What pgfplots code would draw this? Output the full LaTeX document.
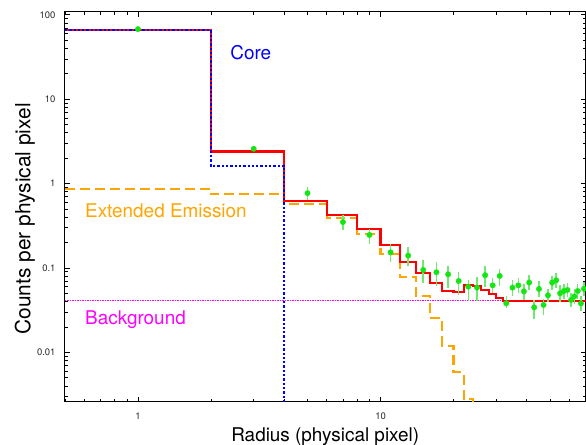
\documentclass[border=0pt]{standalone}
\usepackage{pgfplots}
\pgfplotsset{compat=1.18}
\usepackage{pgfplotstable}
\usepackage{fontspec}
\setmainfont{TeX Gyre Heros}

\definecolor{cred}{RGB}{255,0,0}
\definecolor{cblue}{RGB}{0,0,255}
\definecolor{corange}{RGB}{255,165,0}
\definecolor{cmag}{RGB}{255,0,255}
\definecolor{cgreen}{RGB}{20,230,20}
\definecolor{cgreenl}{RGB}{110,235,110}

\pgfplotstableread{
x y yp ym
1 67.7 2 2
3 2.58 0.17 0.18
5 0.77 0.14 0.14
7 0.35 0.07 0.07
9 0.246 0.044 0.056
11 0.153 0.040 0.0345
13 0.140 0.039 0.036
15 0.0946 0.0304 0.028
17 0.0889 0.0296 0.0281
19 0.0841 0.0199 0.0261
21 0.070 0.0203 0.0216
23 0.060 0.012 0.019
25 0.0584 0.0206 0.0174
27 0.082 0.022 0.022
29 0.0622 0.0133 0.0123
31 0.0804 0.0166 0.0192
33 0.0381 0.0079 0.0048
35 0.0584 0.0136 0.0124
37 0.0622 0.0138 0.0122
39 0.0528 0.0122 0.0108
41 0.067 0.015 0.012
43 0.0341 0.0076 0.0096
45 0.0563 0.0137 0.0113
47 0.0364 0.007 0.009
49 0.0474 0.0096 0.0084
51 0.067 0.013 0.012
53 0.0714 0.0146 0.0134
55 0.0501 0.0119 0.0101
57 0.0533 0.0117 0.0103
59 0.0548 0.0112 0.0098
61 0.0417 0.0093 0.0077
63 0.046 0.010 0.009
65 0.0533 0.0117 0.0103
67 0.038 0.009 0.007
69 0.0566 0.0114 0.0106
}\datatab

\begin{document}
\begin{tikzpicture}
\begin{axis}[
  name=ax,
  scale only axis,
  width=521bp, height=390bp,
  xmode=log, ymode=log,
  xmin=0.5, xmax=70,
  ymin=0.0026, ymax=108,
  log ticks with fixed point,
  /pgf/number format/assume math mode=true,
  tick label style={font=\fontsize{9.5}{11}\selectfont, color=black!85},
  xticklabel style={yshift=-8bp},
  yticklabel style={xshift=-6bp},
  major tick length=5bp,
  minor tick length=3bp,
  tick style={line width=0.7bp, black},
  axis line style={line width=1bp, black},
  xlabel={Radius (physical pixel)},
  ylabel={Counts per physical pixel},
  xlabel style={font=\fontsize{19}{22}\selectfont, at={(axis description cs:0.5,0)}, anchor=base, yshift=-39.5bp},
  ylabel style={font=\fontsize{21}{24}\selectfont, at={(axis description cs:-0.0768,0.469)}, anchor=center},
]
\addplot[const plot, cmag, line width=1.6bp, dash pattern=on 1.5bp off 1bp] coordinates {(0.5,0.0409) (70,0.0409)};
\addplot[const plot, corange, line width=2.1bp, dash pattern=on 10bp off 5bp] coordinates {
(0.5,0.865) (2,0.745) (4,0.57) (6,0.39) (8,0.253) (10,0.145) (12,0.079) (14,0.0465) (16,0.0253) (18,0.012) (20,0.0058) (22,0.0028) (24,0.00001) (70,0.00001)};
\addplot[const plot, cred, line width=2.1bp] coordinates {
(0.5,66.4) (2,2.40) (4,0.62) (6,0.425) (8,0.29) (10,0.186) (12,0.119) (14,0.0875) (16,0.067) (18,0.0534) (20,0.0515) (22,0.063) (24,0.061) (26,0.0545) (28,0.0496) (30,0.0442) (32,0.0409) (70,0.0409)};
\addplot[const plot, cblue, line width=2.1bp, dash pattern=on 2.3bp off 2bp] coordinates {
(0.5,65.5) (2,1.63) (4,0.00001) (70,0.00001)};
\addplot[only marks, mark=*, mark size=2.7bp, color=cgreen,
  error bars/.cd, y dir=both, y explicit, error mark=none,
  error bar style={line width=1.5bp, color=cgreenl}]
  table[x=x, y=y, y error plus=yp, y error minus=ym] {\datatab};
\node[cblue, font=\fontsize{19}{22}\selectfont] at (rel axis cs:0.357,0.897) {Core};
\node[corange, font=\fontsize{19}{22}\selectfont, anchor=west, inner sep=0pt] at (rel axis cs:0.0384,0.49) {Extended Emission};
\node[cmag, font=\fontsize{19}{22}\selectfont, anchor=west, inner sep=0pt] at (rel axis cs:0.0384,0.21) {Background};
\end{axis}
\pgfresetboundingbox
\path[use as bounding box] ([xshift=-65bp,yshift=-43bp]ax.south west) rectangle ([xshift=0.5bp,yshift=12bp]ax.north east);
\end{tikzpicture}
\end{document}
